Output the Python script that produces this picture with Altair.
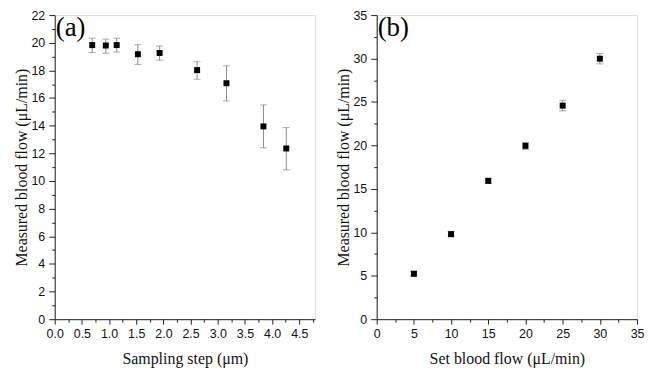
import altair as alt
import pandas as pd

# Panel (a)
step_um = [0.69, 0.94, 1.14, 1.53, 1.93, 2.62, 3.16, 3.84, 4.26]
flow_a = [19.83, 19.80, 19.83, 19.17, 19.26, 18.02, 17.07, 13.95, 12.35]
flow_a_hi = [20.33, 20.26, 20.33, 19.86, 19.76, 18.62, 18.33, 15.50, 13.86]
flow_a_lo = [19.29, 19.24, 19.33, 18.43, 18.74, 17.36, 15.79, 12.40, 10.80]

# Panel (b)
set_flow = [5, 10, 15, 20, 25, 30]
flow_b = [5.23, 9.79, 15.92, 19.95, 24.58, 29.98]
flow_b_hi = [5.53, 10.09, 16.22, 20.35, 25.18, 30.58]
flow_b_lo = [4.93, 9.49, 15.62, 19.55, 23.98, 29.38]

df_a = pd.DataFrame({"x": step_um, "y": flow_a, "hi": flow_a_hi, "lo": flow_a_lo})
df_b = pd.DataFrame({"x": set_flow, "y": flow_b, "hi": flow_b_hi, "lo": flow_b_lo})

SERIF = "Liberation Serif"
SANS = "Liberation Sans"
YTITLE = "Measured blood flow (μL/min)"


def axis(values, major, title, fmt, tick, pad, tpad):
    test = f"abs(datum.value/{major} - round(datum.value/{major})) > 0.001"
    return alt.Axis(
        values=values,
        title=title,
        format=fmt,
        labelExpr=f"({test}) ? '' : datum.label",
        tickSize={"condition": {"test": test, "value": 3}, "value": tick},
        grid=False,
        domainColor="#222",
        tickColor="#222",
        labelFont=SANS,
        labelFontSize=12.5,
        labelColor="#111",
        labelPadding=pad,
        titleFont=SERIF,
        titleFontSize=16,
        titleFontWeight="normal",
        titleColor="#111",
        titlePadding=tpad,
        labelFlush=False,
        labelOverlap=False,
    )


def panel(df, xvals, xmajor, xfmt, xtitle, xmax, yvals, ymajor, ymax, tag):
    xa = axis(xvals, xmajor, xtitle, xfmt, 5, 3, 11)
    ya = axis(yvals, ymajor, YTITLE, "d", 6, 4, 1)
    xs = alt.Scale(domain=[0, xmax], nice=False, zero=False)
    ys = alt.Scale(domain=[0, ymax], nice=False, zero=False)
    base = alt.Chart(df)
    err = base.mark_errorbar(ticks={"size": 7, "thickness": 1, "color": "#888"}, color="#888", thickness=1).encode(
        x=alt.X("x:Q", scale=xs, axis=xa),
        y=alt.Y("lo:Q", scale=ys, axis=ya),
        y2="hi:Q",
    )
    pts = base.mark_square(size=36, color="#000", opacity=1).encode(
        x=alt.X("x:Q", scale=xs, axis=xa),
        y=alt.Y("y:Q", scale=ys, axis=ya),
    )
    lab = alt.Chart(pd.DataFrame({"t": [tag]})).mark_text(
        font=SERIF, fontSize=27, align="left", baseline="middle", color="#000"
    ).encode(text="t:N", x=alt.value(1), y=alt.value(13))
    return alt.layer(err, pts, lab).properties(width=262, height=306)


xa_vals = [i * 0.25 for i in range(0, 20)]
ya_vals = list(range(0, 23))
xb_vals = [i * 2.5 for i in range(0, 15)]
yb_vals = [i * 2.5 for i in range(0, 15)]

pa = panel(df_a, xa_vals, 0.5, ".1f", "Sampling step (μm)", 4.79, ya_vals, 2, 22, "(a)")
pb = panel(df_b, xb_vals, 5, "d", "Set blood flow (μL/min)", 35, yb_vals, 5, 35, "(b)")

chart = alt.hconcat(pa, pb, spacing=19).properties(
    padding={"left": 5, "top": -1, "right": 2, "bottom": 2}
).configure_view(stroke="#555", strokeWidth=1).configure(background="white")

chart.save("out.html", embed_options={"renderer": "svg", "actions": False})
